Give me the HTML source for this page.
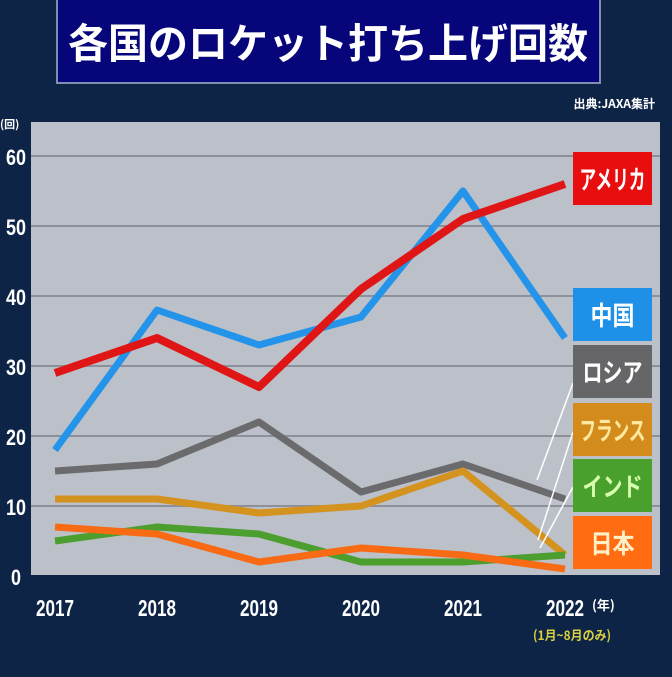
<!DOCTYPE html>
<html><head><meta charset="utf-8"><style>
body{margin:0;width:672px;height:672px;background:#0e2447;overflow:hidden;font-family:"Liberation Sans","Noto Sans CJK JP",sans-serif}
</style></head><body>
<svg id="c" width="672" height="672" xmlns="http://www.w3.org/2000/svg">
<rect x="0" y="0" width="672" height="672" fill="#0e2447"/>
<rect x="57" y="-2" width="543" height="85" fill="#06067a" stroke="#7f8fb0" stroke-width="2"/>
<text x="328" y="58" fill="#fff" font-size="41" font-weight="bold" text-anchor="middle" textLength="520" lengthAdjust="spacingAndGlyphs" font-family="Noto Sans CJK JP,sans-serif">各国のロケット打ち上げ回数</text>
<text x="655" y="108" fill="#fff" font-size="12" font-weight="bold" text-anchor="end" font-family="Noto Sans CJK JP,sans-serif">出典:JAXA集計</text>
<text x="0" y="128" fill="#fff" font-size="11" font-weight="bold" font-family="Noto Sans CJK JP,sans-serif">(回)</text>
<rect x="31" y="122" width="629" height="453" fill="#bcc0c8"/>
<g id="grid"></g><g id="ylab"></g><g id="xlab"></g><g id="lines"></g><g id="labels"></g>
<text x="592" y="610" fill="#fff" font-size="13" font-weight="bold" font-family="Noto Sans CJK JP,sans-serif">(年)</text>
<text x="572" y="640" fill="#d8d040" font-size="13" font-weight="bold" text-anchor="middle" textLength="78" lengthAdjust="spacingAndGlyphs" font-family="Noto Sans CJK JP,sans-serif">(1月~8月のみ)</text>
</svg>
<script>
const years=['2017','2018','2019','2020','2021','2022'];
const yTicks=[0,10,20,30,40,50,60];
const usa=[29,34,27,41,51,56];
const china=[18,38,33,37,55,34];
const russia=[15,16,22,12,16,11];
const france=[11,11,9,10,15,3];
const india=[5,7,6,2,2,3];
const japan=[7,6,2,4,3,1];
const NS='http://www.w3.org/2000/svg';
const X=i=>55+i*102;
const Y=v=>576-7*v;
function mk(t,a,p){const e=document.createElementNS(NS,t);for(const k in a)e.setAttribute(k,a[k]);document.getElementById(p).appendChild(e);return e;}
yTicks.forEach(v=>{
  if(v>0){const g=mk('line',{x1:31,x2:660,y1:Y(v),y2:Y(v),stroke:'#8c909a','stroke-width':2},'grid');
  
  }
  const s=String(v);
  const t=mk('text',{x:16,y:Y(v)+9,fill:'#fff','font-size':22,'font-weight':'bold','text-anchor':'middle',textLength:s.length*10,lengthAdjust:'spacingAndGlyphs'},'ylab');
  t.textContent=s;
  
  
});
years.forEach((y,i)=>{
  const t=mk('text',{x:X(i),y:616,fill:'#fff','font-size':23,'font-weight':'bold','text-anchor':'middle',textLength:38,lengthAdjust:'spacingAndGlyphs'},'xlab');
  t.textContent=y;
  
  
});
const series=[['russia',russia,'#6b6b6d'],['france',france,'#d4921e'],['india',india,'#4c9e2e'],['japan',japan,'#f86a14'],['china',china,'#2494ea'],['usa',usa,'#e01616']];
series.forEach(([n,d,c])=>{
  const p=mk('polyline',{points:d.map((v,i)=>X(i)+','+Y(v)).join(' '),fill:'none',stroke:c,'stroke-width':n=='usa'?8:7,'stroke-linejoin':'round'},'lines');
  
  
});
[[573,383,537,480],[573,432,538,540],[573,487,540,548]].forEach((l,i)=>{
  const e=mk('line',{x1:l[0],y1:l[1],x2:l[2],y2:l[3],stroke:'#fff','stroke-width':1.5},'labels');
  
  
});
const boxes=[['アメリカ',152,'#e80e10','#fff'],['中国',288,'#1f90e8','#fff'],['ロシア',345,'#666668','#fff'],['フランス',403,'#d38c1c','#ffe9a0'],['インド',459,'#4aa02c','#d8ffb0'],['日本',516,'#ff6c12','#fff0c8']];
boxes.forEach(([t,y,bg,fg],i)=>{
  const r=mk('rect',{x:573,y:y,width:79,height:53,fill:bg},'labels');
  
  
  const w=t.length>=4?66:t.length==3?60:44;
  const tx=mk('text',{x:612.5,y:y+37,fill:fg,'font-size':26,'font-weight':'bold','text-anchor':'middle',textLength:w,lengthAdjust:'spacingAndGlyphs','font-family':'Noto Sans CJK JP,sans-serif'},'labels');
  tx.textContent=t;
  
  
});
</script>
</body></html>
